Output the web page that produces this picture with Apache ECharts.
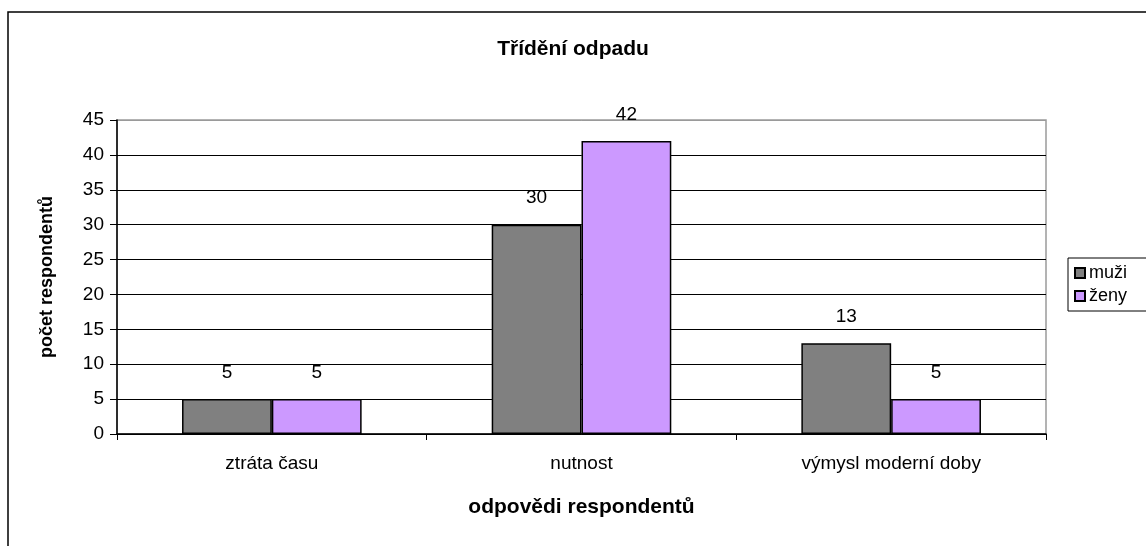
<!DOCTYPE html>
<html>
<head>
<meta charset="utf-8">
<script src="https://cdn.jsdelivr.net/npm/echarts@6/dist/echarts.min.js"></script>
<style>
html,body{margin:0;padding:0;background:#fff;}
#c{width:1146px;height:546px;}
</style>
</head>
<body>
<div id="c"></div>
<script>
var categories = ['ztráta času', 'nutnost', 'výmysl moderní doby'];
var muzi = [5, 30, 13];
var zeny = [5, 42, 5];
var seriesNames = ['muži', 'ženy'];
var yTicks = [0, 45, 5];

var chart = echarts.init(document.getElementById('c'));
var font = '"Liberation Sans", Arial, sans-serif';
var gridColors = [];
for (var i = 0; i < 10; i++) gridColors.push(i === 9 ? '#9a9a9a' : '#000');

var labelCfg = {show: true, position: 'top', distance: 17, color: '#000', fontFamily: font, fontSize: 19};

chart.setOption({
  animation: false,
  backgroundColor: '#fff',
  textStyle: {fontFamily: font},
  title: {
    text: 'Třídění odpadu', left: 'center', top: 34,
    textStyle: {fontFamily: font, fontSize: 21, fontWeight: 'bold', color: '#000'}
  },
  graphic: [{
    type: 'rect', z: -1, silent: true,
    shape: {x: 8, y: 12, width: 1300, height: 700},
    style: {fill: null, stroke: '#000', lineWidth: 1.5}
  }],
  legend: {
    orient: 'vertical', left: 1068, top: 258,
    padding: [6, 40, 6, 6], itemGap: 5,
    itemWidth: 10, itemHeight: 10,
    borderColor: '#000', borderWidth: 1,
    icon: 'rect',
    textStyle: {fontFamily: font, fontSize: 18, color: '#000', padding: [0, 0, 0, -1]},
    data: seriesNames
  },
  grid: {
    left: 117, right: 100, top: 120, bottom: 112,
    show: true, borderColor: '#9a9a9a', borderWidth: 1.5, backgroundColor: '#fff'
  },
  xAxis: {
    type: 'category', data: categories,
    name: 'odpovědi respondentů', nameLocation: 'middle', nameGap: 63,
    nameTextStyle: {fontFamily: font, fontSize: 21, fontWeight: 'bold', color: '#000'},
    axisLine: {lineStyle: {color: '#000', width: 1.5}},
    axisTick: {show: true, length: 6, lineStyle: {color: '#000'}},
    axisLabel: {fontFamily: font, fontSize: 19, color: '#000', margin: 20}
  },
  yAxis: {
    type: 'value', min: yTicks[0], max: yTicks[1], interval: yTicks[2],
    name: 'počet respondentů', nameLocation: 'middle', nameGap: 61,
    nameTextStyle: {fontFamily: font, fontSize: 18, fontWeight: 'bold', color: '#000'},
    axisLine: {show: true, lineStyle: {color: '#000', width: 1.5}},
    axisTick: {show: true, length: 7, lineStyle: {color: '#000'}},
    axisLabel: {fontFamily: font, fontSize: 19, color: '#000', margin: 13},
    splitLine: {show: true, lineStyle: {color: gridColors, width: 1}}
  },
  series: [{
    name: seriesNames[0], type: 'bar', data: muzi,
    barGap: '0%', barCategoryGap: '42%',
    itemStyle: {color: '#808080', borderColor: '#000', borderWidth: 1.5},
    label: labelCfg
  }, {
    name: seriesNames[1], type: 'bar', data: zeny,
    barGap: '0%', barCategoryGap: '42%',
    itemStyle: {color: '#CC99FF', borderColor: '#000', borderWidth: 1.5},
    label: labelCfg
  }]
});
</script>
</body>
</html>
